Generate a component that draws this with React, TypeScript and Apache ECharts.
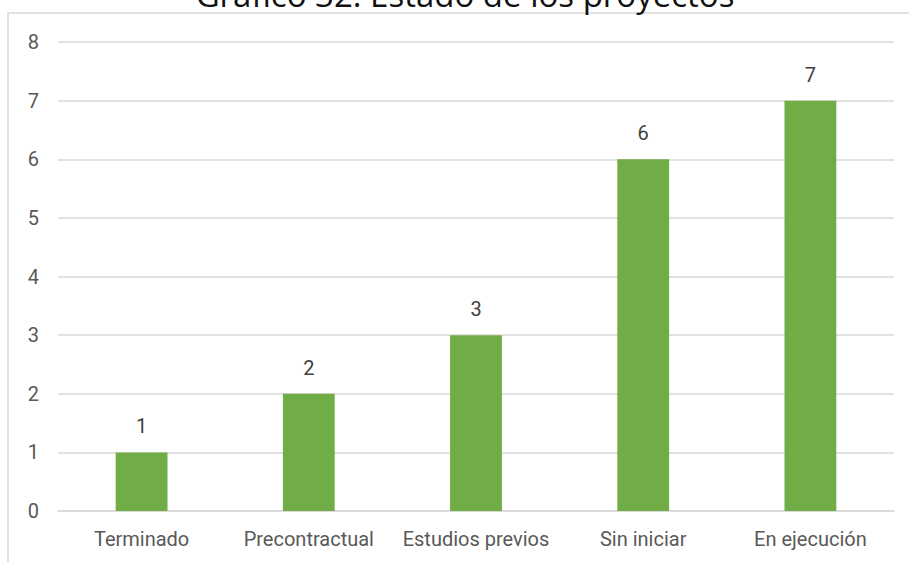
import React, { useEffect, useRef } from "react";
import * as echarts from "echarts";

const categories = ["Terminado", "Precontractual", "Estudios previos", "Sin iniciar", "En ejecución"];
const values = [1, 2, 3, 6, 7];
const titleText = "Gráfico 32. Estado de los proyectos";

export default function App() {
  const ref = useRef<HTMLDivElement>(null);
  useEffect(() => {
    document.body.style.margin = "0";
    const chart = echarts.init(ref.current!, null, { renderer: "svg" });
    const labelFont = "'Roboto', sans-serif";
    chart.setOption({
      animation: false,
      backgroundColor: "#ffffff",
      graphic: [
        {
          type: "rect",
          shape: { x: 8, y: 13, width: 1000, height: 700 },
          style: { fill: "none", stroke: "#D9D9D9", lineWidth: 1.5 },
          silent: true,
        },
        {
          type: "text",
          x: 465,
          y: 11,
          style: {
            text: titleText,
            font: "500 33px 'Open Sans', sans-serif",
            fill: "#111111",
            textAlign: "center",
            textVerticalAlign: "bottom",
          },
        },
      ],
      grid: { left: 58, right: 15, top: 42, bottom: 51, containLabel: false },
      xAxis: {
        type: "category",
        data: categories,
        axisTick: { show: false },
        axisLine: { lineStyle: { color: "#D9D9D9", width: 1.5 } },
        axisLabel: { color: "#595959", fontSize: 20, fontFamily: labelFont, margin: 18, interval: 0 },
      },
      yAxis: {
        type: "value",
        min: 0,
        max: 8,
        interval: 1,
        axisLine: { show: false },
        axisTick: { show: false },
        splitLine: { lineStyle: { color: "#D9D9D9", width: 1.5 } },
        axisLabel: { color: "#595959", fontSize: 20, fontFamily: labelFont, margin: 19 },
      },
      series: [
        {
          type: "bar",
          data: values,
          barWidth: "31%",
          itemStyle: { color: "#70AD47" },
          label: {
            show: true,
            position: "top",
            distance: 16,
            color: "#404040",
            fontSize: 20,
            fontFamily: labelFont,
          },
        },
      ],
    });
    return () => chart.dispose();
  }, []);
  return <div ref={ref} style={{ width: 909, height: 562 }} />;
}
